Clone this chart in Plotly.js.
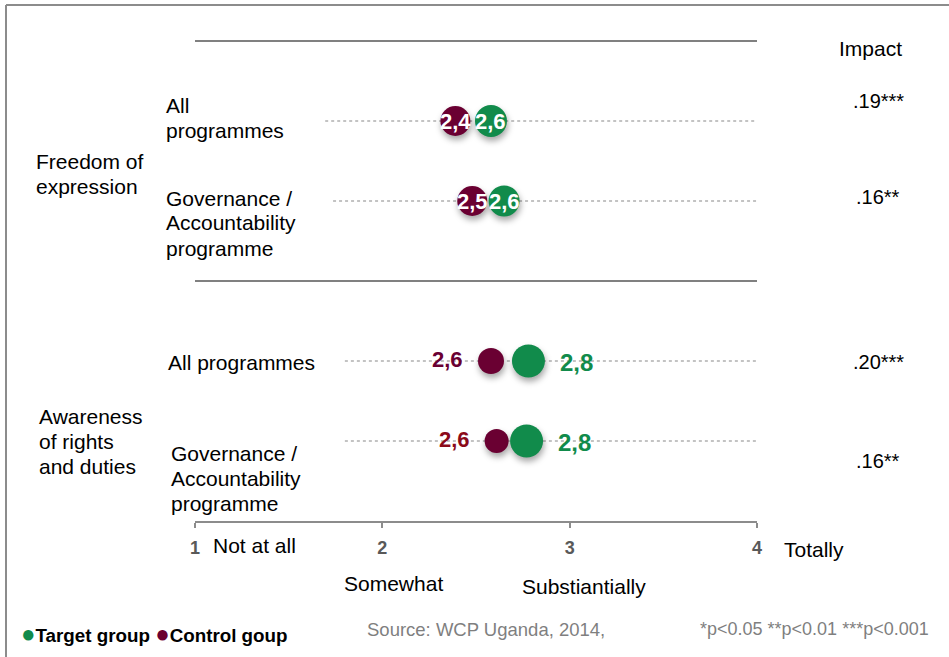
<!DOCTYPE html>
<html>
<head>
<meta charset="utf-8">
<script src="https://cdn.plot.ly/plotly-3.0.1.min.js"></script>
<style>
  html, body { margin:0; padding:0; background:#fff; }
  #chart { width:949px; height:657px; }
  #chart .scatterlayer .point { filter: drop-shadow(1px 4px 3px rgba(0,0,0,0.35)); }
</style>
</head>
<body>
<div id="chart"></div>
<script>
// ---------------- DATA ----------------
const groupLabels = ['Freedom of<br>expression', 'Awareness<br>of rights<br>and duties'];
const rowLabels = ['All<br>programmes', 'Governance /<br>Accountability<br>programme', 'All programmes', 'Governance /<br>Accountability<br>programme'];
const rowKeys = ['fe_all', 'fe_gov', 'ar_all', 'ar_gov'];
const targetValues = [2.58, 2.65, 2.78, 2.77];
const controlValues = [2.39, 2.48, 2.58, 2.61];
const targetLabels = ['2,6', '2,6', '2,8', '2,8'];
const controlLabels = ['2,4', '2,5', '2,6', '2,6'];
const impactLabels = ['.19***', '.16**', '.20***', '.16**'];
const impactHeader = 'Impact';
const tickValues = [1, 2, 3, 4];
const scaleLabels = ['Not at all', 'Somewhat', 'Substiantially', 'Totally'];
const seriesNames = ['Target group', 'Control goup'];
const sourceText = 'Source: WCP Uganda, 2014,';
const sigText = '*p<0.05 **p<0.01 ***p<0.001';

// ---------------- STYLE / LAYOUT ----------------
const W = 949, H = 657;
const GREEN = '#118B4B', MAROON = '#6A0032', DARKRED = '#8B0A1A';
const FONT = 'Liberation Sans, Arial, sans-serif';
const slotOrder = ['top', 'fe_all', 'fe_gov', 'sep', 'ar_all', 'ar_gov', 'axis'];
const slot = k => slotOrder.indexOf(k);
const rowY = rowKeys.map(slot);
const px = x => x / W;
const py = y => 1 - y / H;
const guideStart = [1.695, 1.737, 1.80, 1.80];
const targetSize = [32, 31, 33, 33];
const controlSize = [30, 30, 26, 24];
const insideLabels = [true, true, false, false];
const controlOutsideColor = [MAROON, MAROON, MAROON, DARKRED];

const traces = [];
rowKeys.forEach((k, i) => {
  traces.push({
    type: 'scatter', mode: 'lines', x: [guideStart[i], 4], y: [rowY[i], rowY[i]],
    line: { color: '#b0b0b0', width: 1.5, dash: 'dot' }, hoverinfo: 'skip'
  });
});
traces.push({
  type: 'scatter', mode: 'markers', name: seriesNames[1], x: controlValues, y: rowY,
  marker: { color: MAROON, size: controlSize, opacity: 1, line: { width: 0 } }
});
traces.push({
  type: 'scatter', mode: 'markers', name: seriesNames[0], x: targetValues, y: rowY,
  marker: { color: GREEN, size: targetSize, opacity: 1, line: { width: 0 } }
});

const annotations = [];
function addLines(text, xPix, yCenter, opts) {
  const lines = text.split('<br>');
  const lh = 25;
  lines.forEach((ln, j) => {
    annotations.push(Object.assign({
      text: ln, xref: 'paper', yref: 'paper', x: px(xPix),
      y: py(yCenter + (j - (lines.length - 1) / 2) * lh),
      xanchor: 'left', yanchor: 'middle', showarrow: false,
      font: { family: FONT, size: 21, color: '#000' }
    }, opts || {}));
  });
}
// group labels
addLines(groupLabels[0], 34, 174);
addLines(groupLabels[1], 37, 441);
// row labels
const rowLabelX = [164, 164, 166, 169];
const rowLabelY = [117.5, 223, 362, 478];
rowLabels.forEach((t, i) => addLines(t, rowLabelX[i], rowLabelY[i]));
// impact
annotations.push({ text: impactHeader, xref: 'paper', yref: 'paper', x: px(870), y: py(48),
  xanchor: 'center', yanchor: 'middle', showarrow: false, font: { family: FONT, size: 21, color: '#000' } });
const impactY = [101, 197, 362, 461];
impactLabels.forEach((t, i) => annotations.push({ text: t, xref: 'paper', yref: 'paper', x: px(878), y: py(impactY[i]),
  xanchor: 'center', yanchor: 'middle', showarrow: false, font: { family: FONT, size: 20, color: '#000' } }));
// value labels
rowKeys.forEach((k, i) => {
  if (insideLabels[i]) {
    annotations.push({ text: '<b>' + controlLabels[i] + '</b>', xref: 'x', yref: 'y', x: controlValues[i], y: rowY[i],
      xanchor: 'center', yanchor: 'middle', showarrow: false, font: { family: FONT, size: 22, color: '#fff' } });
    annotations.push({ text: '<b>' + targetLabels[i] + '</b>', xref: 'x', yref: 'y', x: targetValues[i], y: rowY[i],
      xanchor: 'center', yanchor: 'middle', showarrow: false, font: { family: FONT, size: 22, color: '#fff' } });
  } else {
    annotations.push({ text: '<b>' + controlLabels[i] + '</b>', xref: 'x', yref: 'y', x: controlValues[i], y: rowY[i],
      xanchor: 'right', yanchor: 'middle', xshift: -(controlSize[i] / 2 + 13), yshift: 2, showarrow: false,
      font: { family: FONT, size: 22, color: controlOutsideColor[i] } });
    annotations.push({ text: '<b>' + targetLabels[i] + '</b>', xref: 'x', yref: 'y', x: targetValues[i], y: rowY[i],
      xanchor: 'left', yanchor: 'middle', xshift: targetSize[i] / 2 + 13, yshift: -1, showarrow: false,
      font: { family: FONT, size: 24, color: GREEN } });
  }
});
// scale labels
const scaleX = [1, 2, 3, 4];
const scaleAnchor = ['left', 'center', 'center', 'left'];
const scaleShift = [16, 11, 14, 25];
const scaleY = [545, 583, 586, 549];
scaleLabels.forEach((t, i) => annotations.push({ text: t, xref: 'x', yref: 'paper', x: scaleX[i], y: py(scaleY[i]),
  xanchor: scaleAnchor[i], yanchor: 'middle', xshift: scaleShift[i], showarrow: false,
  font: { family: FONT, size: 21, color: '#000' } }));
// footer
annotations.push({ text: sourceText, xref: 'paper', yref: 'paper', x: px(365), y: py(629), xanchor: 'left', yanchor: 'middle',
  showarrow: false, font: { family: FONT, size: 18.5, color: '#7f7f7f' } });
annotations.push({ text: sigText, xref: 'paper', yref: 'paper', x: px(698), y: py(629), xanchor: 'left', yanchor: 'middle',
  showarrow: false, font: { family: FONT, size: 18, color: '#7f7f7f' } });
annotations.push({
  text: '<span style="color:' + GREEN + ';font-size:24px">●</span><b>' + seriesNames[0] + '</b> <span style="color:' + MAROON + ';font-size:24px">●</span><b>' + seriesNames[1] + '</b>',
  xref: 'paper', yref: 'paper', x: px(19), y: py(633), xanchor: 'left', yanchor: 'middle', showarrow: false,
  font: { family: FONT, size: 18.8, color: '#000' }
});

const shapes = [
  { type: 'line', xref: 'x', yref: 'y', x0: 1, x1: 4, y0: slot('top'), y1: slot('top'), line: { color: '#808080', width: 2 } },
  { type: 'line', xref: 'x', yref: 'y', x0: 1, x1: 4, y0: slot('sep'), y1: slot('sep'), line: { color: '#808080', width: 2 } },
  { type: 'line', xref: 'paper', yref: 'paper', x0: px(6), x1: px(6), y0: py(5), y1: -0.05, line: { color: '#8c8c8c', width: 2 } },
  { type: 'line', xref: 'paper', yref: 'paper', x0: px(6), x1: 1.05, y0: py(5), y1: py(5), line: { color: '#8c8c8c', width: 2 } }
];

const layout = {
  width: W, height: H, margin: { l: 0, r: 0, t: 0, b: 0 },
  paper_bgcolor: '#fff', plot_bgcolor: 'rgba(0,0,0,0)', showlegend: false,
  font: { family: FONT },
  xaxis: {
    domain: [px(195), px(757)], range: [1, 4], anchor: 'free', position: py(522),
    showline: true, linecolor: '#8c8c8c', linewidth: 2, ticks: 'outside', ticklen: 5, tickwidth: 2, tickcolor: '#8c8c8c',
    tickvals: tickValues, ticktext: tickValues.map(v => '<b>' + v + '</b>'),
    tickfont: { family: FONT, size: 18, color: '#595959' }, ticklabelstandoff: 4,
    showgrid: false, zeroline: false, fixedrange: true
  },
  yaxis: {
    domain: [0, 1], range: [(H - 41) / 80, -41 / 80], visible: false, showgrid: false, zeroline: false, fixedrange: true
  },
  shapes: shapes, annotations: annotations
};

Plotly.newPlot('chart', traces, layout, { displayModeBar: false, staticPlot: true });
</script>
</body>
</html>
